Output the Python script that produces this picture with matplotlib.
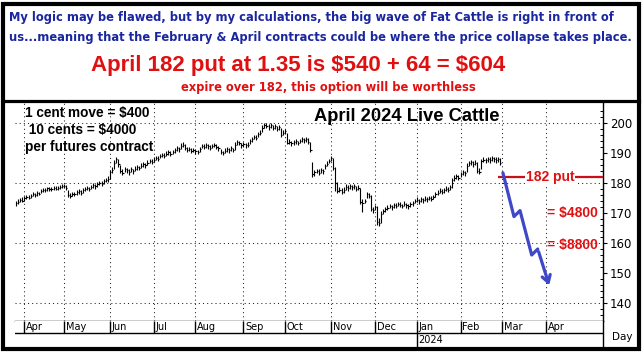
import numpy as np
import matplotlib
matplotlib.use("Agg")
import matplotlib.pyplot as plt
from matplotlib.patches import Rectangle

plt.rcParams['text.parse_math'] = False

# daily bars, late Mar 2023 -> late Feb 2024 (x = trading day index)
closes = [173.3, 173.8, 174.4, 174.1, 175.0, 175.4, 175.1, 175.8, 176.3, 176.0,
          176.6, 176.4, 177.3, 177.8, 177.5, 178.2, 177.9, 178.0, 178.4, 178.1,
          178.3, 178.7, 178.9, 179.1, 178.2, 176.0, 175.7, 176.4, 176.2, 176.9,
          177.2, 176.8, 177.6, 177.9, 178.3, 178.0, 178.7, 179.2, 178.9, 179.6,
          180.1, 179.8, 180.6, 181.0, 181.4, 183.6, 184.3, 186.8, 187.9, 186.2,
          184.0, 183.4, 184.6, 184.2, 183.6, 184.5, 183.9, 184.8, 185.3, 185.0,
          185.8, 186.2, 185.9, 186.7, 187.3, 187.0, 187.8, 188.3, 188.1, 189.0,
          189.4, 189.1, 189.8, 190.2, 189.7, 190.4, 190.9, 191.6, 191.2, 192.4,
          192.8, 191.6, 191.1, 191.4, 190.8, 191.0, 190.5, 190.3, 191.4, 192.3,
          192.0, 192.6, 192.2, 191.8, 192.4, 192.7, 192.1, 191.6, 190.2, 190.0,
          190.8, 191.2, 190.9, 191.5, 191.0, 192.8, 193.6, 193.3, 192.6, 192.9,
          192.5, 192.8, 194.0, 194.6, 195.3, 195.0, 196.2, 196.7, 198.4, 199.3,
          199.0, 198.6, 199.2, 198.4, 198.9, 198.1, 198.6, 196.0, 196.8, 197.2,
          193.4, 193.8, 193.2, 193.6, 193.9, 193.3, 194.0, 194.5, 194.2, 194.6,
          193.8, 191.0, 183.0, 183.5, 184.0, 183.4, 184.2, 183.9, 185.6, 186.4,
          187.3, 188.4, 185.0, 180.0, 177.3, 177.8, 177.1, 177.6, 178.7, 178.2,
          179.0, 178.5, 178.9, 178.1, 178.4, 173.6, 173.2, 174.0, 176.2, 175.8,
          171.4, 171.0, 172.0, 167.0, 166.6, 169.8, 170.6, 171.2, 171.8, 172.3,
          171.9, 172.6, 172.4, 173.0, 172.7, 172.3, 173.1, 172.6, 172.2, 172.9,
          173.2, 174.0, 174.4, 173.9, 174.6, 174.2, 174.8, 174.5, 175.0, 174.7,
          175.3, 176.2, 176.8, 177.4, 177.0, 177.6, 178.1, 177.8, 178.6, 181.0,
          181.6, 182.2, 181.8, 183.0, 183.5, 183.2, 185.8, 186.5, 186.9, 186.3,
          186.8, 184.0, 183.8, 187.2, 187.8, 187.5, 188.0, 187.6, 188.3, 187.9,
          187.6, 187.9, 186.5]
highs = [174.0, 174.5, 175.0, 175.2, 175.6, 176.1, 176.0, 176.4, 176.9, 176.8,
         177.2, 177.1, 177.9, 178.4, 178.3, 178.8, 178.6, 178.7, 179.0, 178.9,
         179.0, 179.3, 179.6, 179.8, 179.4, 177.8, 176.6, 177.0, 177.1, 177.5,
         177.9, 177.6, 178.2, 178.6, 179.0, 178.8, 179.3, 179.9, 179.7, 180.2,
         180.8, 180.6, 181.2, 181.6, 182.4, 184.4, 185.2, 187.6, 188.6, 188.0,
         186.0, 184.6, 185.3, 185.1, 184.5, 185.2, 184.7, 185.5, 186.1, 185.8,
         186.5, 187.0, 186.8, 187.5, 188.0, 187.9, 188.5, 189.0, 188.9, 189.7,
         190.1, 189.9, 190.5, 190.9, 190.6, 191.1, 191.6, 192.3, 192.0, 193.2,
         193.6, 192.9, 191.9, 192.1, 191.7, 191.8, 191.3, 191.0, 192.0, 193.0,
         192.9, 193.3, 193.0, 192.6, 193.1, 193.4, 192.9, 192.4, 191.4, 190.8,
         191.5, 191.9, 191.7, 192.2, 191.8, 193.5, 194.3, 194.1, 193.4, 193.6,
         193.3, 193.6, 194.7, 195.4, 196.0, 195.9, 196.9, 197.5, 199.2, 200.0,
         199.9, 199.5, 199.9, 199.3, 199.6, 199.0, 199.4, 198.4, 197.6, 198.0,
         196.8, 194.6, 194.0, 194.4, 194.7, 194.1, 194.8, 195.3, 195.0, 195.4,
         195.0, 193.6, 187.0, 184.3, 184.8, 184.6, 185.0, 184.7, 186.3, 187.2,
         188.0, 189.0, 188.2, 185.2, 180.4, 178.6, 178.3, 178.5, 179.5, 179.4,
         179.8, 179.4, 179.7, 179.0, 179.2, 178.2, 174.6, 174.8, 176.9, 176.7,
         176.0, 172.0, 172.8, 172.4, 168.4, 170.6, 171.3, 172.0, 172.6, 173.0,
         172.8, 173.3, 173.2, 173.8, 173.5, 173.0, 173.9, 173.4, 173.0, 173.6,
         174.0, 174.7, 175.2, 174.8, 175.3, 175.0, 175.5, 175.3, 175.8, 175.5,
         176.0, 176.9, 177.6, 178.2, 177.9, 178.4, 178.9, 178.7, 179.4, 181.8,
         182.5, 183.0, 182.7, 183.8, 184.4, 184.0, 186.6, 187.3, 187.6, 187.2,
         187.6, 186.9, 185.0, 187.9, 188.6, 188.4, 188.8, 188.5, 189.1, 188.8,
         188.5, 188.7, 188.2]
lows = [172.4, 173.0, 173.5, 173.6, 174.0, 174.6, 174.5, 175.0, 175.5, 175.3,
        175.8, 175.9, 176.5, 177.0, 176.9, 177.4, 177.3, 177.2, 177.7, 177.5,
        177.6, 178.0, 178.2, 178.4, 177.5, 175.3, 175.0, 175.6, 175.5, 176.0,
        176.4, 176.1, 176.8, 177.2, 177.5, 177.3, 177.9, 178.4, 178.1, 178.8,
        179.3, 179.1, 179.8, 180.2, 180.3, 181.2, 183.2, 184.8, 186.6, 185.4,
        183.2, 182.6, 183.5, 183.4, 182.8, 183.6, 183.1, 183.9, 184.4, 184.2,
        185.0, 185.4, 185.1, 185.9, 186.5, 186.2, 187.0, 187.5, 187.3, 188.2,
        188.6, 188.3, 189.0, 189.4, 188.9, 189.6, 190.1, 190.8, 190.4, 191.4,
        191.9, 190.9, 190.3, 190.6, 190.0, 190.2, 189.7, 189.5, 190.4, 191.5,
        191.2, 191.8, 191.4, 191.0, 191.6, 191.9, 191.3, 190.8, 189.5, 189.2,
        190.0, 190.4, 190.1, 190.7, 190.2, 191.0, 192.8, 192.5, 191.8, 192.1,
        191.7, 192.0, 193.0, 193.8, 194.5, 194.2, 195.2, 195.9, 197.0, 198.4,
        198.2, 197.8, 198.3, 197.6, 198.0, 197.3, 197.8, 195.3, 195.9, 196.4,
        193.0, 193.0, 192.4, 192.8, 193.1, 192.5, 193.2, 193.7, 193.4, 193.8,
        193.0, 190.4, 182.0, 182.4, 183.2, 182.6, 183.4, 183.1, 184.8, 185.6,
        186.5, 187.4, 184.4, 177.2, 176.5, 176.9, 176.3, 176.8, 177.8, 177.3,
        178.1, 177.7, 178.0, 177.3, 177.6, 172.9, 170.4, 173.2, 175.0, 175.0,
        170.6, 170.0, 171.1, 166.0, 165.6, 166.5, 169.6, 170.4, 171.0, 171.5,
        171.1, 171.8, 171.6, 172.2, 171.9, 171.5, 172.3, 171.8, 171.4, 172.1,
        172.4, 173.2, 173.6, 173.1, 173.8, 173.4, 174.0, 173.7, 174.2, 173.9,
        174.5, 175.4, 176.0, 176.6, 176.2, 176.8, 177.3, 177.0, 177.8, 178.4,
        180.6, 181.3, 180.9, 182.0, 182.7, 182.4, 183.5, 185.6, 186.0, 185.4,
        185.9, 183.2, 182.9, 184.5, 186.9, 186.6, 187.1, 186.7, 187.4, 187.0,
        186.7, 187.0, 185.9]

month_labels = ['Apr', 'May', 'Jun', 'Jul', 'Aug', 'Sep', 'Oct', 'Nov', 'Dec',
                'Jan', 'Feb', 'Mar', 'Apr']
month_start = [4, 23, 45, 66, 86, 109, 129, 151, 172, 192, 213, 233, 254]
year_label, year_start = '2024', 192

yticks = [140, 150, 160, 170, 180, 190, 200]
ygrid = [140, 160, 180, 200]

# projected drop drawn in blue
path_x = [233.3, 238.6, 241.5, 247.1, 250.0, 255.9]
path_y = [183.4, 168.8, 170.8, 156.0, 158.0, 145.0]
strike = 182
put_start = 231
loss_notes = [('= $4800', 170.0), ('= $8800', 159.3)]
notes = ['1 cent move = $400', ' 10 cents = $4000', 'per futures contract']

W, H = 644, 353
def fx(px): return px / W
def fy(py): return 1 - py / H

RED = '#e01010'
BLUE_TXT = '#1a25a0'
ARROW = '#3f48c8'
dotted = (0, (1, 3))

fig = plt.figure(figsize=(W / 100, H / 100), dpi=100)
fig.patch.set_facecolor('white')

# header text
hdr = dict(family='DejaVu Sans', weight='bold', color=BLUE_TXT, fontsize=8.3, va='center', ha='left')
fig.text(fx(9), fy(17), "My logic may be flawed, but by my calculations, the big wave of Fat Cattle is right in front of", **hdr)
fig.text(fx(9), fy(38), "us...meaning that the February & April contracts could be where the price collapse takes place.", **hdr)
fig.text(fx(298), fy(65), "April 182 put at 1.35 is $540 + 64 = $604", family='Liberation Sans',
         weight='bold', color=RED, fontsize=16, ha='center', va='center')
fig.text(fx(328), fy(88), "expire over 182, this option will be worthless", family='DejaVu Sans',
         weight='bold', color=RED, fontsize=8.3, ha='center', va='center')

# main price axes
x0, x1, ytop, ybot = 15, 603, 103, 321
ax = fig.add_axes([fx(x0), fy(ybot), fx(x1) - fx(x0), fy(ytop) - fy(ybot)])
idx = np.arange(len(closes))
ax.set_xlim((x0 - 16) / 2.087, (x1 - 16) / 2.087)
ax.set_ylim(200 - (ybot - 123) / 3, 200 + (123 - ytop) / 3)

for m in month_start:
    ax.axvline(m, color='#222222', lw=0.75, ls=dotted, zorder=1)
for g in ygrid:
    ax.axhline(g, color='#222222', lw=0.75, ls=dotted, zorder=1)

ax.vlines(idx, lows, highs, color='black', lw=0.8, zorder=3)
ax.hlines(closes, idx, idx + 0.6, color='black', lw=0.8, zorder=3)

# put strike line and label
ax.hlines(strike, put_start, ax.get_xlim()[1], color='#c8101a', lw=1.6, zorder=4)
ax.text(256, strike, '182 put', color=RED, weight='bold', family='Liberation Sans', fontsize=10,
        ha='center', va='center', zorder=5,
        bbox=dict(boxstyle='square,pad=0.05', fc='white', ec='none'))
for txt, yv in loss_notes:
    ax.text(278.6, yv, txt, color=RED, weight='bold', family='Liberation Sans', fontsize=10,
            ha='right', va='center', zorder=5)

ax.plot(path_x[:-1], path_y[:-1], color=ARROW, lw=2.3, solid_capstyle='round',
        solid_joinstyle='round', zorder=6)
ax.annotate('', xy=(path_x[-1], path_y[-1]), xytext=(path_x[-2], path_y[-2]),
            arrowprops=dict(arrowstyle='->,head_length=0.5,head_width=0.3', color=ARROW, lw=2.3),
            zorder=6)

for k, txt in enumerate(notes):
    ax.text(4.3, 203.3 - 5.67 * k, txt, family='Liberation Sans', weight='bold', fontsize=9.8,
            ha='left', va='center', zorder=5)
ax.text(187, 202.3, 'April 2024 Live Cattle', family='Liberation Sans', weight='bold',
        fontsize=13.2, ha='center', va='center', zorder=5)

for s in ['left', 'top']:
    ax.spines[s].set_visible(False)
ax.spines['right'].set_linewidth(1.0)
ax.spines['bottom'].set_linewidth(1.0)
ax.set_xticks([])
ax.yaxis.tick_right()
ax.set_yticks(yticks)
ax.set_yticks(np.arange(136, 206, 2), minor=True)
ax.tick_params(axis='y', which='major', direction='out', length=3, width=0.8, pad=2, labelsize=8.5)
ax.tick_params(axis='y', which='minor', direction='in', length=2, width=0.7)

# month / year band under the chart
bax = fig.add_axes([fx(x0), fy(347), fx(x1) - fx(x0), fy(ybot) - fy(347)])
bax.set_xlim(ax.get_xlim())
bax.set_ylim(0, 26)
bax.axhline(14, color='black', lw=1.0)
for m, lab in zip(month_start, month_labels):
    bax.vlines(m, 14, 26, color='black', lw=1.0)
    bax.text(m + 0.8, 20, lab, fontsize=7, ha='left', va='center')
bax.vlines(year_start, 0, 14, color='black', lw=1.0)
bax.text(year_start + 0.8, 7, year_label, fontsize=7, ha='left', va='center')
for s in ['left', 'top', 'bottom']:
    bax.spines[s].set_visible(False)
bax.spines['right'].set_linewidth(1.0)
bax.set_xticks([])
bax.set_yticks([])
fig.text(fx(612), fy(337), 'Day', fontsize=7.5, ha='left', va='center')

# outer frame and header separator
fig.add_artist(Rectangle((fx(2.5), fy(348.5)), fx(639) - fx(2.5), fy(4.5) - fy(348.5),
                         transform=fig.transFigure, fill=False, ec='black', lw=3))
fig.add_artist(plt.Line2D([fx(2.5), fx(639)], [fy(101), fy(101)], transform=fig.transFigure,
                          color='black', lw=2.3))

fig.savefig('out.png', dpi=100)
